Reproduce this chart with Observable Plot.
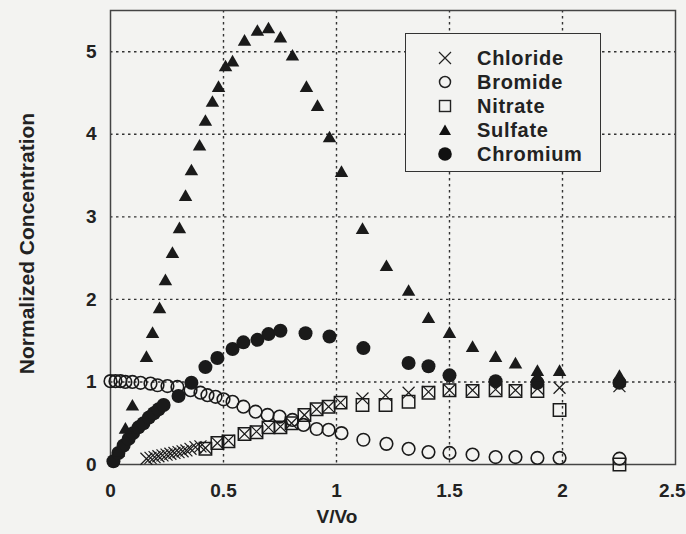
<!DOCTYPE html>
<html>
<head>
<meta charset="utf-8">
<script src="https://cdn.jsdelivr.net/npm/d3@7"></script>
<script src="https://cdn.jsdelivr.net/npm/@observablehq/plot@0.6"></script>
<style>
  html, body { margin: 0; padding: 0; background: #f3f3f1; }
  #wrap { position: relative; width: 686px; height: 534px; overflow: hidden; }
  #legend { position: absolute; left: 405px; top: 33px; width: 196px; height: 139px;
    border: 1.5px solid #333; background: #f3f3f1; box-sizing: border-box;
    font-family: "Liberation Sans", Arial, sans-serif; font-weight: bold; font-size: 20px; color: #222; }
  .row { position: absolute; left: 0; height: 24px; width: 100%; }
  .row svg { position: absolute; left: 30px; top: 3px; }
  .row span { position: absolute; left: 71px; top: 1px; line-height: 22px; white-space: nowrap; letter-spacing: 0.7px; }
</style>
</head>
<body>
<div id="wrap"></div>
<script>
// ---- data (V/Vo, normalized concentration) ----
const chlorideV = [0.159,0.177,0.195,0.212,0.230,0.248,0.265,0.283,0.301,0.319,0.336,0.354,0.376,0.398,0.420,0.473,0.522,0.593,0.646,0.699,0.752,0.801,0.858,0.912,0.965,1.018,1.115,1.217,1.319,1.407,1.500,1.602,1.704,1.792,1.889,1.987,2.252];
const chlorideC = [0.07,0.08,0.09,0.10,0.11,0.12,0.13,0.14,0.15,0.16,0.17,0.19,0.21,0.22,0.20,0.26,0.29,0.37,0.40,0.45,0.46,0.50,0.60,0.67,0.70,0.75,0.80,0.84,0.87,0.88,0.90,0.90,0.91,0.90,0.92,0.93,0.95];

const bromideV = [0.0,0.022,0.044,0.066,0.097,0.133,0.177,0.208,0.252,0.296,0.354,0.398,0.429,0.465,0.500,0.540,0.588,0.642,0.695,0.748,0.805,0.854,0.912,0.965,1.022,1.119,1.221,1.319,1.407,1.500,1.602,1.704,1.792,1.889,1.987,2.252];
const bromideC = [1.01,1.01,1.01,1.00,1.00,0.99,0.98,0.96,0.95,0.94,0.90,0.87,0.84,0.82,0.79,0.76,0.70,0.64,0.60,0.58,0.54,0.48,0.43,0.42,0.38,0.30,0.25,0.19,0.15,0.14,0.12,0.09,0.09,0.08,0.08,0.07];

const nitrateV = [0.420,0.473,0.522,0.593,0.646,0.699,0.752,0.801,0.858,0.912,0.965,1.018,1.115,1.217,1.319,1.407,1.500,1.602,1.704,1.792,1.889,1.987,2.252];
const nitrateC = [0.19,0.26,0.28,0.37,0.39,0.45,0.45,0.50,0.60,0.67,0.70,0.75,0.72,0.72,0.76,0.87,0.90,0.89,0.90,0.89,0.89,0.66,0.00];

const sulfateV = [0.035,0.066,0.097,0.159,0.186,0.217,0.243,0.274,0.305,0.332,0.358,0.394,0.420,0.451,0.478,0.509,0.540,0.593,0.650,0.699,0.752,0.805,0.867,0.916,0.969,1.022,1.115,1.221,1.319,1.407,1.500,1.602,1.704,1.792,1.889,1.889,1.987,2.252,2.252];
const sulfateC = [0.14,0.42,0.70,1.29,1.58,1.88,2.22,2.55,2.85,3.24,3.55,3.85,4.15,4.38,4.56,4.81,4.87,5.12,5.24,5.27,5.16,4.94,4.56,4.33,3.95,3.53,2.84,2.39,2.09,1.76,1.58,1.41,1.29,1.21,1.12,1.05,1.12,1.06,0.99];

const chromiumV = [0.013,0.035,0.058,0.080,0.100,0.124,0.146,0.170,0.192,0.213,0.235,0.301,0.358,0.420,0.473,0.540,0.588,0.650,0.699,0.752,0.863,0.969,1.119,1.319,1.407,1.500,1.704,1.889,2.252];
const chromiumC = [0.04,0.14,0.23,0.31,0.38,0.45,0.50,0.57,0.62,0.67,0.72,0.83,0.99,1.18,1.29,1.40,1.48,1.51,1.58,1.62,1.59,1.55,1.41,1.23,1.19,1.08,1.01,0.99,0.99];

const xTicks = [0, 0.5, 1, 1.5, 2];
const xLastTick = [2.5];
const yTicks = [0, 1, 2, 3, 4, 5];
const seriesNames = ["Chloride", "Bromide", "Nitrate", "Sulfate", "Chromium"];

const toRows = (vs, cs) => vs.map((v, i) => ({v, c: cs[i]}));
const chloride = toRows(chlorideV, chlorideC);
const bromide = toRows(bromideV, bromideC);
const nitrate = toRows(nitrateV, nitrateC);
const sulfate = toRows(sulfateV, sulfateC);
const chromium = toRows(chromiumV, chromiumC);

const ink = "#1a1a1a";
const font = "Liberation Sans, Arial, sans-serif";

const chart = Plot.plot({
  width: 686,
  height: 534,
  marginLeft: 110,
  marginRight: 11,
  marginTop: 10,
  marginBottom: 70,
  style: {background: "transparent", fontFamily: font, fontWeight: "bold", fontSize: "19px", color: "#222"},
  x: {domain: [0, 2.5]},
  y: {domain: [0, 5.5]},
  marks: [
    Plot.gridX([0.5, 1, 1.5, 2], {stroke: "#333", strokeOpacity: 1, strokeWidth: 1.4, strokeDasharray: "2.5,3.5"}),
    Plot.gridY([1, 2, 3, 4, 5], {stroke: "#333", strokeOpacity: 1, strokeWidth: 1.4, strokeDasharray: "2.5,3.5"}),
    Plot.frame({stroke: "#444", strokeWidth: 1.5}),
    Plot.axisX({ticks: xTicks, tickSize: 0, tickPadding: 19, tickFormat: d => String(d), label: null, fontSize: 19, fontWeight: "bold"}),
    Plot.axisX({ticks: xLastTick, tickSize: 0, tickPadding: 19, tickFormat: d => String(d), label: null, fontSize: 19, fontWeight: "bold", textAnchor: "end", dx: 10}),
    Plot.axisY({ticks: yTicks, tickSize: 0, tickPadding: 14, tickFormat: d => String(d), label: null, fontSize: 19, fontWeight: "bold"}),
    Plot.text(["V/Vo"], {frameAnchor: "bottom", dx: -56, dy: 58, fontSize: 19, fontWeight: "bold", fill: "#222"}),
    Plot.text(["Normalized Concentration"], {frameAnchor: "left", textAnchor: "middle", dx: -83, dy: 6, rotate: -90, fontSize: 21, fontWeight: "bold", fill: "#222", style: "letter-spacing:0.9px"}),
    Plot.dot(nitrate, {x: "v", y: "c", symbol: "square", r: 7, stroke: ink, strokeWidth: 1.5, fill: "none"}),
    Plot.dot(chloride, {x: "v", y: "c", symbol: "times", r: 5.5, stroke: ink, strokeWidth: 1.2, fill: "none"}),
    Plot.dot(bromide, {x: "v", y: "c", symbol: "circle", r: 6.3, stroke: ink, strokeWidth: 1.6, fill: "none"}),
    Plot.dot(chromium, {x: "v", y: "c", symbol: "circle", r: 7, fill: ink, stroke: "none"}),
    Plot.dot(sulfate, {x: "v", y: "c", symbol: "triangle", r: 5, fill: ink, stroke: "none"})
  ]
});
document.getElementById("wrap").appendChild(chart);

// ---- legend ----
const legend = document.createElement("div");
legend.id = "legend";
const symbolSvg = {
  Chloride: '<path d="M-6,-6L6,6M-6,6L6,-6" stroke="#222" stroke-width="1.2" fill="none"/>',
  Bromide: '<circle r="5.5" fill="none" stroke="#222" stroke-width="1.5"/>',
  Nitrate: '<rect x="-5.5" y="-5.5" width="11" height="11" fill="none" stroke="#222" stroke-width="1.4"/>',
  Sulfate: '<path d="M0,-5.5L6,5L-6,5Z" fill="#111"/>',
  Chromium: '<circle r="6.8" fill="#111"/>'
};
seriesNames.forEach((name, i) => {
  const row = document.createElement("div");
  row.className = "row";
  row.style.top = (12 + i * 24) + "px";
  row.innerHTML = `<svg width="18" height="18" viewBox="-9 -9 18 18">${symbolSvg[name]}</svg><span>${name}</span>`;
  legend.appendChild(row);
});
document.getElementById("wrap").appendChild(legend);
</script>
</body>
</html>
